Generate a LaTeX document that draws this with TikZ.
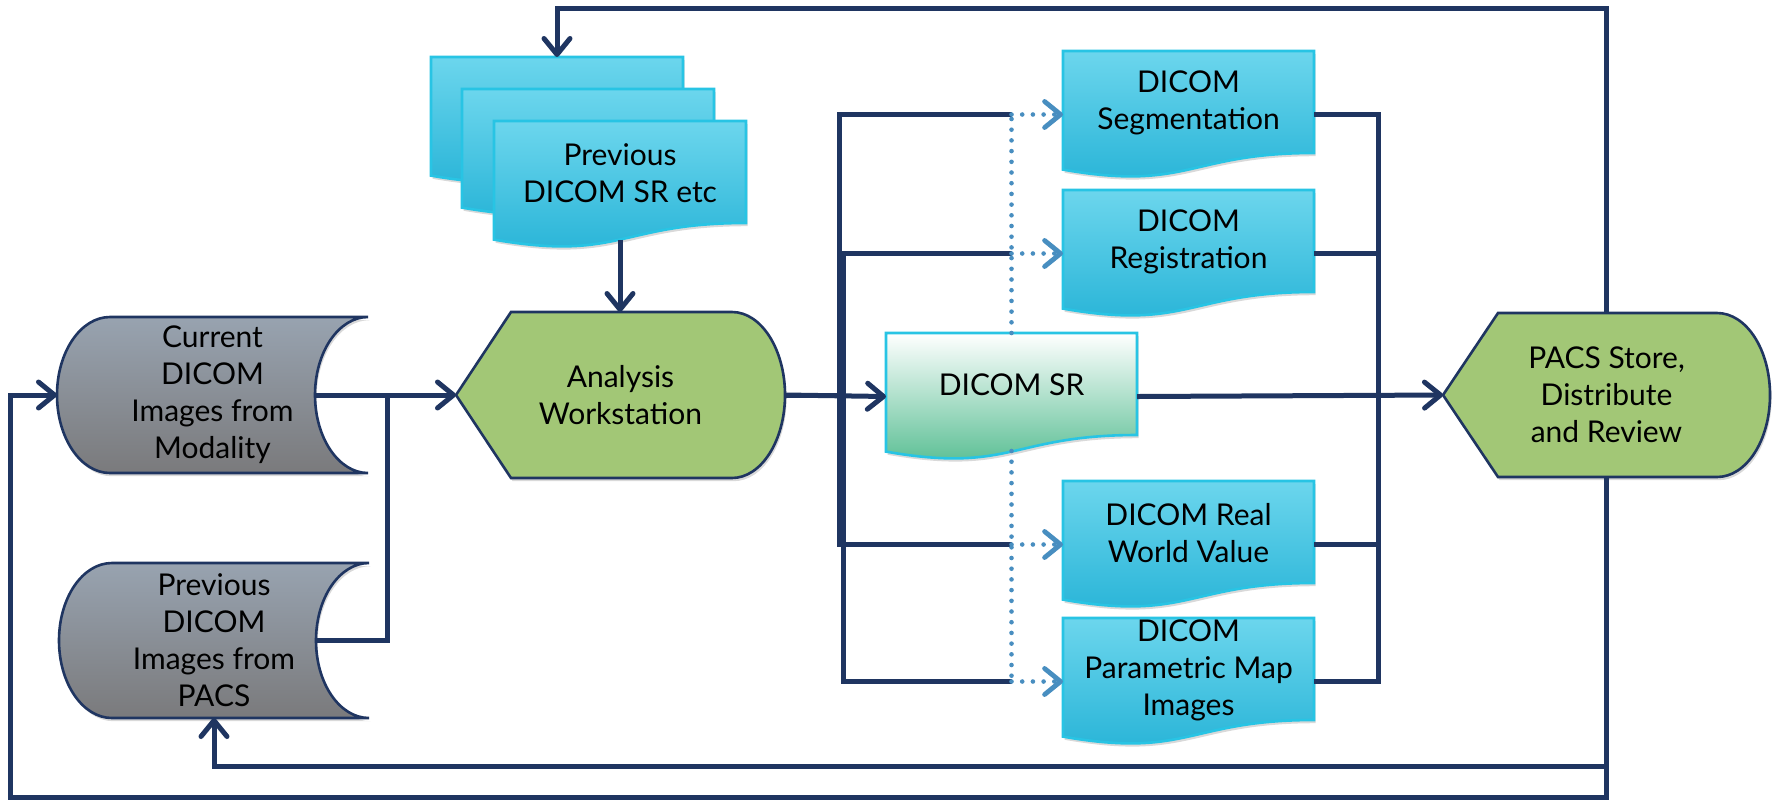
\documentclass[tikz,border=0pt]{standalone}
\usepackage{fontspec}
\setmainfont{Lato}
\usetikzlibrary{calc,arrows.meta,shadows,backgrounds}
\definecolor{navy}{RGB}{31,53,97}
\definecolor{grnfill}{RGB}{162,199,118}
\definecolor{graytop}{RGB}{152,163,176}
\definecolor{graybot}{RGB}{122,122,124}
\definecolor{doctop}{RGB}{108,214,237}
\definecolor{docbot}{RGB}{36,178,214}
\definecolor{docedge}{RGB}{40,196,228}
\definecolor{srbot}{RGB}{78,186,140}
\definecolor{dotblue}{RGB}{72,142,192}
\newcommand\docpath[1]{(#1.north west) -- (#1.north east) -- ($(#1.north east)+(0,102)$) .. controls ($(#1.north)+(0,102)$) and ($(#1.north)+(0,140.6)$) .. ($(#1.north west)+(0,118.6)$) -- cycle}
\newcommand\storepath[1]{($(#1.north west)+(53,0)$) -- (#1.north east) .. controls ($(#1.north east)+(-29.3,0)$) and ($(#1.east)+(-53,-43)$) .. ($(#1.east)+(-53,0)$) .. controls ($(#1.east)+(-53,43)$) and ($(#1.south east)+(-29.3,0)$) .. (#1.south east) -- ($(#1.south west)+(53,0)$) .. controls ($(#1.south west)+(23.7,0)$) and ($(#1.west)+(0,43)$) .. (#1.west) .. controls ($(#1.west)+(0,-43)$) and ($(#1.north west)+(23.7,0)$) .. ($(#1.north west)+(53,0)$) -- cycle}
\newcommand\disppath[1]{(#1.west) -- ($(#1.north west)+(55,0)$) -- ($(#1.north east)+(-53,0)$) .. controls ($(#1.north east)+(-23.7,0)$) and ($(#1.east)+(0,-45.5)$) .. (#1.east) .. controls ($(#1.east)+(0,45.5)$) and ($(#1.south east)+(-23.7,0)$) .. ($(#1.south east)+(-53,0)$) -- ($(#1.south west)+(55,0)$) -- cycle}
\tikzset{
  conn/.style={draw=navy, line width=2.5pt},
  arr/.style={conn, -{Straight Barb[length=8pt,width=13pt,round]}},
  dotb/.style={draw=dotblue, line width=2.3pt, line cap=round, dash pattern=on 0pt off 5.35pt},
  dotarr/.style={dotb, -{Straight Barb[length=8pt,width=13pt,round,line width=2.4pt]}},
  box/.style={draw=none, inner sep=0pt, outer sep=0pt, minimum width=125.5pt, minimum height=63.5pt},
  txt/.style={align=center, font=\fontsize{15}{18.5}\selectfont, text=black},
  shadowed/.style={drop shadow={opacity=0.3, shadow xshift=0.8pt, shadow yshift=-1.6pt}},
  store/.style={shadowed, draw=navy, line width=1.3pt, top color=graytop, bottom color=graybot},
  disp/.style={shadowed, draw=navy, line width=1.3pt, fill=grnfill},
  doc/.style={shadowed, draw=docedge, line width=1.3pt, top color=doctop, bottom color=docbot},
  srdoc/.style={shadowed, draw=docedge, line width=1.3pt, top color=white, bottom color=srbot}
}
\begin{document}
\begin{tikzpicture}[x=0.5pt,y=-0.5pt]
\useasboundingbox (0,0) rectangle (1781,799);
% ---- nodes
\node[box, txt, minimum width=155.5pt, minimum height=78pt] (cur) at (212.5,395) {Current\\DICOM\\Images from\\Modality};
\node[box, txt, minimum width=155pt, minimum height=77.5pt] (prev) at (214,640.5) {Previous\\DICOM\\Images from\\PACS};
\node[box, txt, minimum width=164.5pt, minimum height=83pt] (ana) at (620.5,395) {Analysis\\Workstation};
\node[box, txt, minimum width=163.5pt, minimum height=82pt] (pacs) at (1606.5,395) {PACS Store,\\Distribute\\and Review};
\node[box, minimum width=126pt] (back) at (557,120.5) {};
\node[box, minimum width=126pt] (mid) at (588,152.5) {};
\node[box, minimum width=126pt] (front) at (620,184.5) {};
\node[txt] (frontt) at ($(front.center)+(0,-11.5)$) {Previous\\DICOM SR etc};
\node[box] (seg) at (1188.5,114.5) {};
\node[txt] (segt) at ($(seg.center)+(0,-11.5)$) {DICOM\\Segmentation};
\node[box] (reg) at (1188.5,253.5) {};
\node[txt] (regt) at ($(reg.center)+(0,-11.5)$) {DICOM\\Registration};
\node[box] (sr) at (1011.5,396.5) {};
\node[txt] (srt) at ($(sr.center)+(0,-11.5)$) {DICOM SR};
\node[box] (rw) at (1188.5,544.5) {};
\node[txt] (rwt) at ($(rw.center)+(0,-11.5)$) {DICOM Real\\World Value};
\node[box] (param) at (1188.5,681.5) {};
\node[txt] (paramt) at ($(param.center)+(0,-11.5)$) {DICOM\\Parametric Map\\Images};
% ---- shapes
\begin{scope}[on background layer]
\path[store] \storepath{cur};
\path[store] \storepath{prev};
\path[disp] \disppath{ana};
\path[disp] \disppath{pacs};
\path[doc] \docpath{back};
\path[doc] \docpath{mid};
\path[doc] \docpath{front};
\path[doc] \docpath{seg};
\path[doc] \docpath{reg};
\path[srdoc] \docpath{sr};
\path[doc] \docpath{rw};
\path[doc] \docpath{param};
\end{scope}
% ---- coordinates
\coordinate (jn) at (387,395);
\coordinate (lb) at (839,395);
\coordinate (lb2) at (843,395);
\coordinate (rb) at (1378,395);
\coordinate (topy) at (0,8);
\coordinate (lowA) at (0,766);
\coordinate (lowB) at (10,797);
\coordinate (fb) at ($(front.south)+(0,-8.5)$);
\coordinate (srb) at ($(sr.south)+(0,-9)$);
% ---- left connectors
\draw[arr] ($(cur.east)+(-53,0)$) -- (ana.west);
\draw[conn] ($(prev.east)+(-53,0)$) -| (jn);
\draw[arr] (fb) -- (fb |- ana.north);
% ---- bus to outputs
\draw[conn] (ana.east) -- (lb) |- (seg.west -| sr.north);
\draw[conn] (ana.east) -- (lb2) |- (reg.west -| sr.north);
\draw[conn] (ana.east) -- (lb) |- (rw.west -| sr.north);
\draw[conn] (ana.east) -- (lb2) |- (param.west -| sr.north);
\draw[arr] (ana.east) -- (sr.west);
% ---- dotted SR references
\draw[dotb] (sr.north) -- (seg.west -| sr.north);
\draw[dotarr] (seg.west -| sr.north) -- (seg.west);
\draw[dotarr] (reg.west -| sr.north) -- (reg.west);
\draw[dotb] (srb) -- (param.west -| srb);
\draw[dotarr] (rw.west -| srb) -- (rw.west);
\draw[dotarr] (param.west -| srb) -- (param.west);
% ---- to PACS
\draw[conn] (seg.east) -| (rb);
\draw[conn] (reg.east) -| (rb);
\draw[conn] (rw.east) -| (rb);
\draw[conn] (param.east) -| (rb);
\draw[arr] (sr.east) -- (pacs.west);
% ---- loops
\draw[arr] (pacs.north) -- (pacs.north |- topy) -| (back.north);
\draw[arr] (pacs.south) -- (pacs.south |- lowA) -| (prev.south);
\draw[arr] (pacs.south) -- (pacs.south |- lowB) -- (lowB) |- (cur.west);
\end{tikzpicture}
\end{document}
